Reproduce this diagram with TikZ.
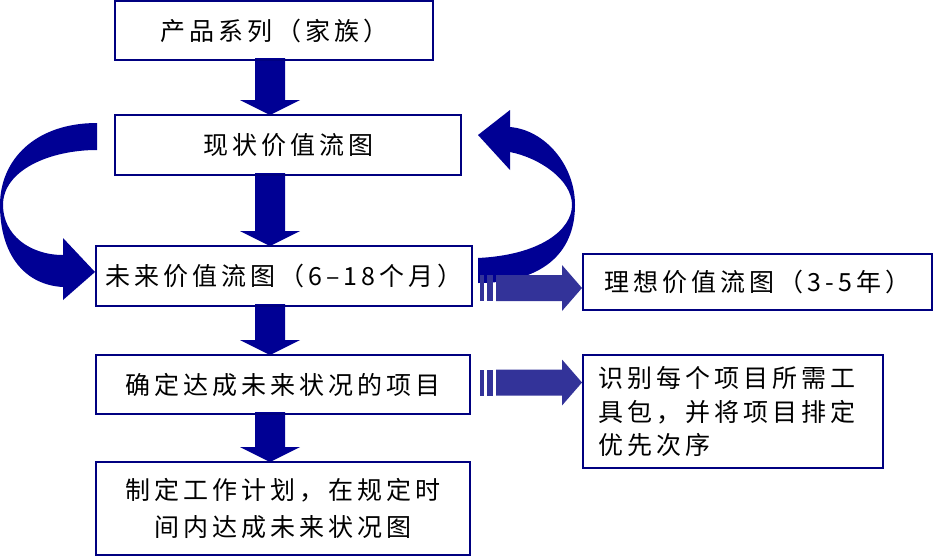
\documentclass[tikz,border=0pt]{standalone}
\usepackage{fontspec}
\setmainfont{Noto Sans CJK SC}
\newfontfamily\cjk[LetterSpace=16]{Noto Sans CJK SC}
\usetikzlibrary{calc}
\definecolor{boxline}{RGB}{0,0,128}
\definecolor{arrowblue}{RGB}{0,0,148}
\definecolor{stripeblue}{RGB}{51,51,153}
\pgfdeclarelayer{background}
\pgfsetlayers{background,main}
\begin{document}
\begin{tikzpicture}[x=1pt,y=-1pt,
  box/.style={draw=boxline,line width=1.5pt,inner sep=0pt,outer sep=0pt,
    font=\cjk\fontsize{25}{33}\selectfont},
  blockarrow/.style={fill=arrowblue},
  stripearrow/.style={fill=stripeblue}]
\useasboundingbox (0,0) rectangle (936,557);
% boxes
\node[box,minimum width=318pt,minimum height=59pt] (b1) at (274,30.5) {产品系列（家族）};
\node[box,minimum width=346pt,minimum height=60pt] (b2) at (288,145) {现状价值流图};
\node[box,minimum width=376pt,minimum height=60pt] (b3) at (284,276) {未来价值流图（6–18个月）};
\node[box,minimum width=374pt,minimum height=59pt] (b4) at (283,384.5) {确定达成未来状况的项目};
\node[box,minimum width=374pt,minimum height=93pt,align=center,
  font=\cjk\fontsize{25}{37}\selectfont] (b5) at (283,508.5) {制定工作计划，在规定时\\间内达成未来状况图};
\node[box,minimum width=349pt,minimum height=56pt] (b6) at (757.5,282) {理想价值流图（3-5年）};
\node[box,minimum width=300pt,minimum height=113pt,text width=270pt,align=left,
  font=\cjk\fontsize{25}{33.5}\selectfont] (b7) at (733,411.5) {识别每个项目所需工\\具包，并将项目排定\\优先次序};
\coordinate (ax) at (270,0);
\newcommand\downblock[2]{%
  \fill[blockarrow] ($(ax |- #1.south)+(-15,-2)$) -- ($(ax |- #1.south)+(15,-2)$)
    -- ($(ax |- #2.north)+(15,-15)$) -- ($(ax |- #2.north)+(30,-15)$)
    -- (ax |- #2.north) -- ($(ax |- #2.north)+(-30,-15)$)
    -- ($(ax |- #2.north)+(-15,-15)$) -- cycle;}
\newcommand\stripedblock[1]{%
  \begin{scope}[shift={(#1)}]
    \fill[stripearrow] (-102,-13) rectangle (-98,13);
    \fill[stripearrow] (-95,-13) rectangle (-89,13);
    \fill[stripearrow] (-86,-13) -- (-20,-13) -- (-20,-23) -- (0,0) -- (-20,23) -- (-20,13) -- (-86,13) -- cycle;
  \end{scope}}
\begin{pgfonlayer}{background}
\downblock{b1}{b2}
\downblock{b2}{b3}
\downblock{b3}{b4}
\downblock{b4}{b5}
% curved arrow from b2 (left) to b3
\begin{scope}[shift={(b3.west)}]
  \fill[blockarrow] (1,-153) .. controls (-61,-153) and (-96,-116) .. (-96,-71)
    .. controls (-96,-21) and (-71,9) .. (-33,11) -- (-33,24) -- (-1,-4) -- (-33,-38)
    -- (-33,-21) .. controls (-66,-21) and (-93,-41) .. (-93,-71)
    .. controls (-93,-106) and (-46,-126) .. (1,-126) -- cycle;
\end{scope}
% curved arrow from b3 back to b2 (right)
\begin{scope}[shift={(b2.east)}]
  \fill[blockarrow] (17,138) -- (17,113) .. controls (79,110) and (111,85) .. (111,60)
    .. controls (111,35) and (79,13) .. (49,7) -- (49,25) -- (17,-10) -- (49,-35)
    -- (49,-18) .. controls (84,-15) and (114,20) .. (114,60)
    .. controls (114,110) and (79,138) .. (17,138) -- cycle;
\end{scope}
\coordinate (t1) at ($(b6.west)+(-1,6)$);
\coordinate (t2) at ($(b7.west |- b4.east)+(-1,-2)$);
\stripedblock{t1}
\stripedblock{t2}
\end{pgfonlayer}
\end{tikzpicture}
\end{document}
